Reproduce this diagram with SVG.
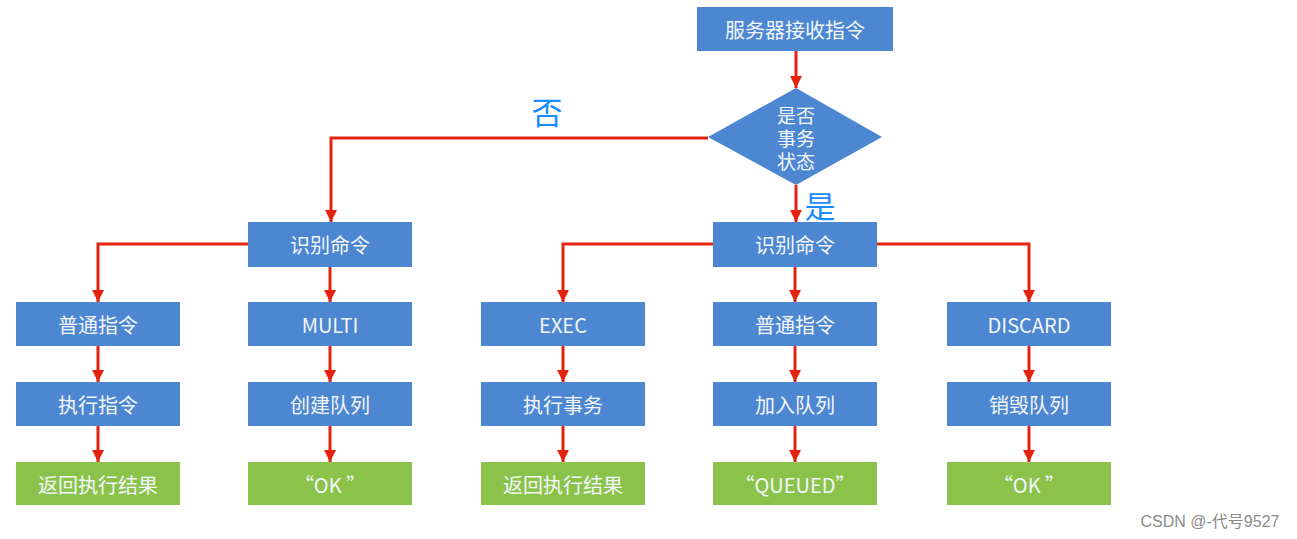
<svg xmlns="http://www.w3.org/2000/svg" width="1297" height="539" viewBox="0 0 1297 539">
<defs>
<marker id="ah" markerUnits="userSpaceOnUse" markerWidth="12" markerHeight="12" viewBox="0 0 12 12" refX="12" refY="6" orient="auto">
<path d="M0,0 L12,6 L0,12 Z" fill="#e3230e"/>
</marker>
<style>
.b{fill:#4d87d2}
.g{fill:#8bc34a}
.t{fill:#f2f6fb;font-family:"Noto Sans CJK SC","Noto Sans",sans-serif;font-size:20px;text-anchor:middle;dominant-baseline:central}
.d{font-size:19px}
.c{fill:none;stroke:#e3230e;stroke-width:3;marker-end:url(#ah)}
.l{fill:#1a8cff;font-family:"Noto Sans CJK SC",sans-serif;font-size:31px;text-anchor:middle;dominant-baseline:central}
</style>
</defs>
<rect width="1297" height="539" fill="#ffffff"/>
<g id="connectors">
<path class="c" d="M796,51 V88"/>
<path class="c" d="M796,185 V222"/>
<path class="c" d="M708,138 H331 V222"/>
<path class="c" d="M248,244 H98 V302"/>
<path class="c" d="M330,267 V302"/>
<path class="c" d="M713,244 H563 V302"/>
<path class="c" d="M795,267 V302"/>
<path class="c" d="M877,244 H1029 V302"/>
<path class="c" d="M98,346 V382"/>
<path class="c" d="M330,346 V382"/>
<path class="c" d="M563,346 V382"/>
<path class="c" d="M795,346 V382"/>
<path class="c" d="M1029,346 V382"/>
<path class="c" d="M98,426 V462"/>
<path class="c" d="M330,426 V462"/>
<path class="c" d="M563,426 V462"/>
<path class="c" d="M795,426 V462"/>
<path class="c" d="M1029,426 V462"/>
<text class="l" x="547" y="110">否</text>
<text class="l" x="820" y="204">是</text>
</g>
<g id="start"><rect class="b" x="697" y="7" width="196" height="44"/><text class="t" x="795" y="29">服务器接收指令</text></g>
<g id="decision"><polygon class="b" points="796,88 882,137 796,185 708,137"/>
<text class="t d" x="796" y="114"><tspan x="796" y="114">是否</tspan><tspan x="796" y="137">事务</tspan><tspan x="796" y="160">状态</tspan></text></g>
<g id="id-left"><rect class="b" x="248" y="222" width="164" height="45"/><text class="t" x="330" y="244">识别命令</text></g>
<g id="id-right"><rect class="b" x="713" y="222" width="164" height="45"/><text class="t" x="795" y="244">识别命令</text></g>
<g id="normal-left"><rect class="b" x="16" y="302" width="164" height="44"/><text class="t" x="98" y="324">普通指令</text></g>
<g id="multi"><rect class="b" x="248" y="302" width="164" height="44"/><text class="t" x="330" y="324">MULTI</text></g>
<g id="exec"><rect class="b" x="481" y="302" width="164" height="44"/><text class="t" x="563" y="324">EXEC</text></g>
<g id="normal-right"><rect class="b" x="713" y="302" width="164" height="44"/><text class="t" x="795" y="324">普通指令</text></g>
<g id="discard"><rect class="b" x="947" y="302" width="164" height="44"/><text class="t" x="1029" y="324">DISCARD</text></g>
<g id="exec-cmd"><rect class="b" x="16" y="382" width="164" height="44"/><text class="t" x="98" y="404">执行指令</text></g>
<g id="create-queue"><rect class="b" x="248" y="382" width="164" height="44"/><text class="t" x="330" y="404">创建队列</text></g>
<g id="exec-tx"><rect class="b" x="481" y="382" width="164" height="44"/><text class="t" x="563" y="404">执行事务</text></g>
<g id="enqueue"><rect class="b" x="713" y="382" width="164" height="44"/><text class="t" x="795" y="404">加入队列</text></g>
<g id="destroy-queue"><rect class="b" x="947" y="382" width="164" height="44"/><text class="t" x="1029" y="404">销毁队列</text></g>
<g id="result-left"><rect class="g" x="16" y="462" width="164" height="43"/><text class="t" x="98" y="484">返回执行结果</text></g>
<g id="ok-multi"><rect class="g" x="248" y="462" width="164" height="43"/><text class="t" x="330" y="484">“OK ”</text></g>
<g id="result-exec"><rect class="g" x="481" y="462" width="164" height="43"/><text class="t" x="563" y="484">返回执行结果</text></g>
<g id="queued"><rect class="g" x="713" y="462" width="164" height="43"/><text class="t" x="795" y="484">“QUEUED”</text></g>
<g id="ok-discard"><rect class="g" x="947" y="462" width="164" height="43"/><text class="t" x="1029" y="484">“OK ”</text></g>
<text x="1210" y="521" fill="#8a8a8a" font-family="Liberation Sans, Noto Sans CJK SC, sans-serif" font-size="16" text-anchor="middle" dominant-baseline="central">CSDN @-代号9527</text>
</svg>
